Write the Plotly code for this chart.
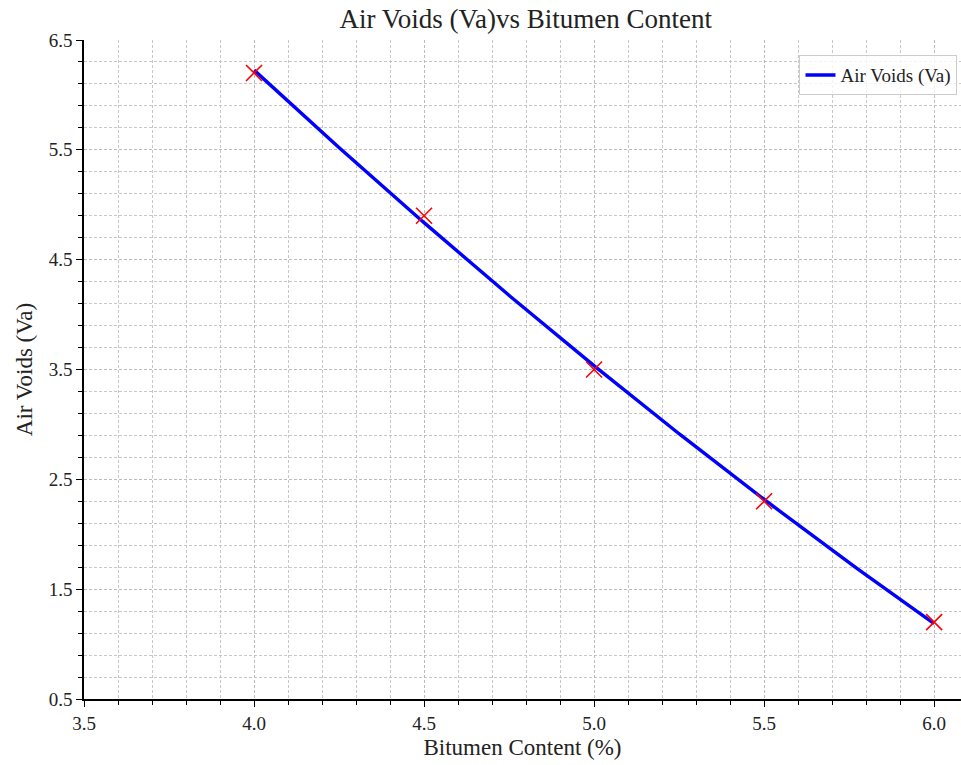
import numpy as np
import plotly.graph_objects as go

# Marshall mix data: bitumen content (%) and measured air voids (%)
bitumen_content = [4.0, 4.5, 5.0, 5.5, 6.0]
air_voids = [6.2, 4.9, 3.5, 2.3, 1.2]

x_ticks = [3.5, 4.0, 4.5, 5.0, 5.5, 6.0]
y_ticks = [0.5, 1.5, 2.5, 3.5, 4.5, 5.5, 6.5]

# Second-order trend line fitted through the measured points
coef = np.polyfit(bitumen_content, air_voids, 2)
x_fit = np.linspace(min(bitumen_content), max(bitumen_content), 200)
y_fit = np.polyval(coef, x_fit)

FONT = "Liberation Serif, Times New Roman, serif"
GRID = "rgba(185,185,185,0.8)"
DASH = "3px,2px"

fig = go.Figure()
fig.add_trace(go.Scatter(
    x=x_fit, y=y_fit, mode="lines", name="Air Voids (Va)",
    line=dict(color="blue", width=3.4),
))
fig.add_trace(go.Scatter(
    x=bitumen_content, y=air_voids, mode="markers", showlegend=False,
    marker=dict(symbol="x-thin", size=16, color="red",
                line=dict(color="red", width=1.6)),
))

axis_common = dict(
    showline=True, linecolor="black", linewidth=1.5,
    ticks="outside", ticklen=6, tickwidth=1.2, tickcolor="black",
    showgrid=True, gridcolor=GRID, griddash=DASH, gridwidth=1,
    zeroline=False,
    tickfont=dict(family=FONT, size=19, color="#222"),
)

fig.update_xaxes(
    **axis_common,
    range=[3.5, 6.079],
    tickvals=x_ticks, ticktext=[f"{v:.1f}" for v in x_ticks],
    minor=dict(dtick=0.1, tick0=3.5, ticks="outside", ticklen=4,
               tickcolor="black", showgrid=True, gridcolor=GRID,
               griddash=DASH, gridwidth=1),
    title=dict(text="Bitumen Content (%)", font=dict(family=FONT, size=23, color="#222"),
               standoff=6),
)
fig.update_yaxes(
    **axis_common,
    range=[0.5, 6.5],
    tickvals=y_ticks, ticktext=[f"{v:.1f}" for v in y_ticks],
    minor=dict(dtick=0.2, tick0=0.5, ticks="outside", ticklen=4,
               tickcolor="black", showgrid=True, gridcolor=GRID,
               griddash=DASH, gridwidth=1),
    title=dict(text="Air Voids (Va)", font=dict(family=FONT, size=23, color="#222"),
               standoff=10),
)

fig.update_layout(
    width=961, height=765,
    margin=dict(l=84, r=0, t=40, b=66),
    paper_bgcolor="white", plot_bgcolor="white",
    title=dict(text="Air Voids (Va)vs Bitumen Content", x=0.547, xanchor="center",
               y=0.976, yanchor="middle",
               font=dict(family=FONT, size=27, color="#222")),
    legend=dict(x=0.996, y=0.977, xanchor="right", yanchor="top",
                bgcolor="rgba(255,255,255,0.8)", bordercolor="#cccccc", borderwidth=1,
                font=dict(family=FONT, size=19, color="#222")),
    showlegend=True,
)

fig.write_html("out.html")
